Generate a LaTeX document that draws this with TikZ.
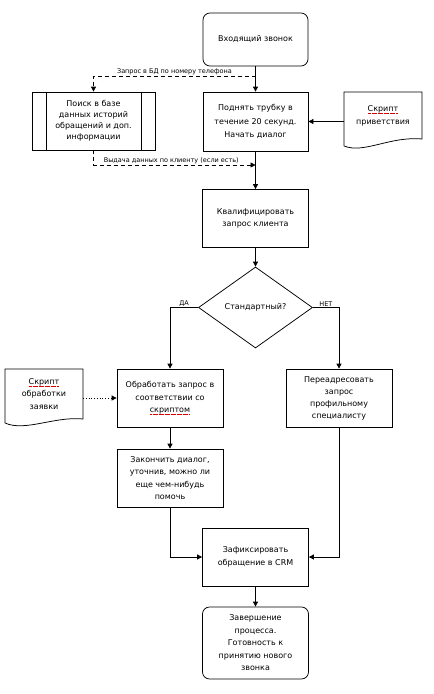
\documentclass[tikz,border=0pt]{standalone}
\usepackage{fontspec}
\setmainfont{DejaVu Sans}
\usetikzlibrary{arrows.meta,shapes.geometric}
\newcommand\spellmark[1]{\setbox0\hbox{#1}\rlap{\color{red!85!black}\hbox to\wd0{\leaders\hbox to 1.2pt{\hss\rule[-1.8pt]{0.6pt}{0.45pt}\hss}\hfill}}#1}
\begin{document}
\begin{tikzpicture}[x=1pt,y=-1pt,
  box/.style={draw,line width=0.75pt,minimum width=106pt,minimum height=58pt,align=center,
    font=\fontsize{8}{12.5}\selectfont,inner sep=1pt},
  term/.style={box,rounded corners=7pt},
  arr/.style={-{Triangle[length=5pt,width=5pt]},line width=0.75pt},
  dsh/.style={arr,dash pattern=on 4pt off 3pt},
  dot/.style={arr,dotted},
  lbl/.style={font=\fontsize{6.5}{7}\selectfont,inner sep=1pt},
  dec/.style={draw,line width=0.75pt,diamond,aspect=1.4,inner sep=0pt,minimum width=114pt,minimum height=81pt,
    font=\fontsize{8}{12}\selectfont},
  docarea/.style={inner sep=0pt,minimum width=78pt,minimum height=56pt},
  doctext/.style={align=center,font=\fontsize{8}{13}\selectfont,inner sep=0pt},
  docline/.style={draw,line width=0.75pt}]
\useasboundingbox (0,0) rectangle (434,694);

\node[term,minimum width=105pt,minimum height=53pt] (start) at (255.5,39.5) {Входящий звонок};
\node[box,minimum width=105pt,minimum height=59pt,font=\fontsize{8}{13.3}\selectfont] (pick) at (255.5,121.5)
  {Поднять трубку в\\течение 20 секунд.\\Начать диалог};
\node[box,minimum width=123pt,minimum height=58pt,font=\fontsize{8}{11}\selectfont] (search) at (93.5,121)
  {Поиск в базе\\данных историй\\обращений и доп.\\информации};
\draw[line width=0.75pt] ([xshift=15pt]search.north west) -- ([xshift=15pt]search.south west);
\draw[line width=0.75pt] ([xshift=-14pt]search.north east) -- ([xshift=-14pt]search.south east);

% document: script of greeting
\node[docarea] (s1) at (383,120) {};
\draw[docline] (344,146) -- (344,92) -- (422,92) -- (422,139) .. controls (390,136) and (364,154) .. (344,146);
\node[doctext] (s1t) at (383,116) {\spellmark{Скрипт}\\приветствия};

\node[box] (qual) at (255.5,218.5) {Квалифицировать\\запрос клиента};
\node[dec] (dec) at (255.5,307.5) {Стандартный?};
\node[box] (proc) at (170,398) {Обработать запрос в\\соответствии со\\\spellmark{скриптом}};
\node[box,font=\fontsize{8}{12}\selectfont] (redir) at (339,398) {Переадресовать\\запрос\\профильному\\специалисту};

% document: script of processing
\node[docarea,minimum height=54pt] (s2) at (44,396) {};
\draw[docline] (5,423) -- (5,369) -- (83,369) -- (83,419) .. controls (55,416) and (25,432) .. (5,423);
\node[doctext,font=\fontsize{8}{12.5}\selectfont] (s2t) at (44,394) {\spellmark{Скрипт}\\обработки\\заявки};

\node[box,font=\fontsize{8}{12.3}\selectfont] (fin) at (170,478) {Закончить диалог,\\уточнив, можно ли\\еще чем-нибудь\\помочь};
\node[box] (crm) at (255.5,557) {Зафиксировать\\обращение в CRM};
\node[term,minimum height=72pt] (endn) at (255.5,643) {Завершение\\процесса.\\Готовность к\\принятию нового\\звонка};

% connectors
\coordinate (j1) at (255.5,76);
\coordinate (j2) at (255.5,165);
\draw[arr] (start) -- (pick);
\draw[dsh] (j1) -- node[lbl,above,pos=0.5] {Запрос в БД по номеру телефона} (search.north |- j1) -- (search.north);
\draw[dsh] (search.south) -- (search.south |- j2) -- node[lbl,above,pos=0.48] {Выдача данных по клиенту (если есть)} (j2);
\draw[arr] (s1.west |- pick.east) -- (pick.east);
\draw[arr] (pick) -- (qual);
\draw[arr] (qual) -- (dec);
\draw[arr] (dec.west) -| node[lbl,above,pos=0.25] {ДА} (proc.north);
\draw[arr] (dec.east) -| node[lbl,above,pos=0.25] {НЕТ} (redir.north);
\draw[dot] (s2.east |- proc.west) -- (proc.west);
\draw[arr] (proc) -- (fin);
\draw[arr] (fin.south) |- (crm.west);
\draw[arr] (redir.south) |- (crm.east);
\draw[arr] (crm) -- (endn);
\end{tikzpicture}
\end{document}
